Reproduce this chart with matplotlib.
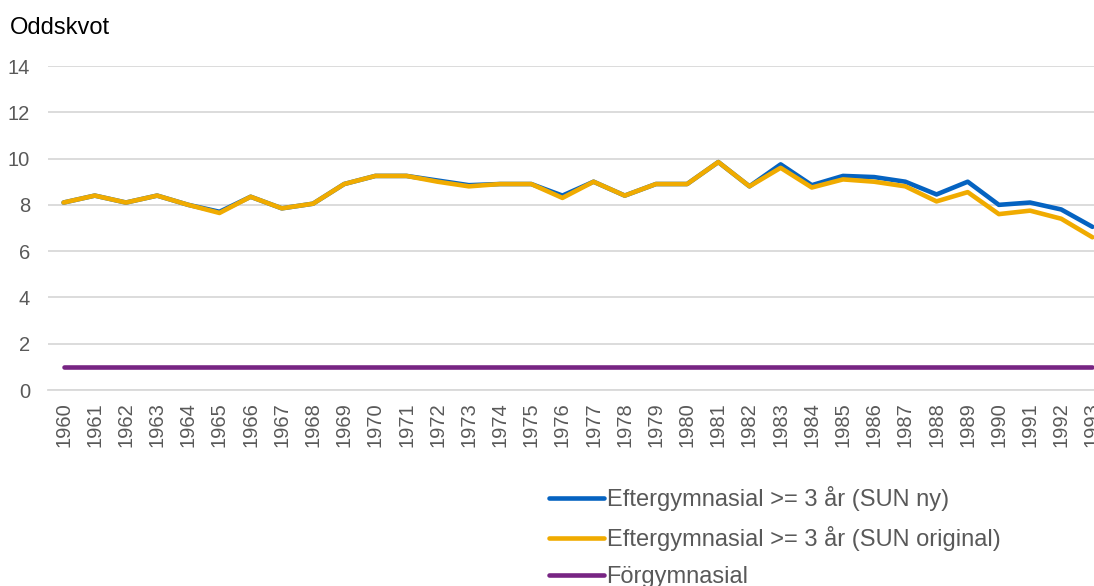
#!/usr/bin/env python3
# Oddskvot per födelseår, tre utbildningsnivåer

import matplotlib.pyplot as plt

plt.rcParams['font.family'] = ['Liberation Sans', 'DejaVu Sans']

years = list(range(1960, 1994))

sun_ny = [8.1, 8.4, 8.1, 8.4, 8.0, 7.7, 8.35, 7.85, 8.05, 8.9,
          9.25, 9.25, 9.05, 8.85, 8.9, 8.9, 8.4, 9.0, 8.4, 8.9,
          8.9, 9.85, 8.8, 9.75, 8.85, 9.25, 9.2, 9.0, 8.45, 9.0,
          8.0, 8.1, 7.8, 7.05]

sun_original = [8.1, 8.4, 8.1, 8.4, 8.0, 7.65, 8.35, 7.85, 8.05, 8.9,
                9.25, 9.25, 9.0, 8.8, 8.9, 8.9, 8.3, 9.0, 8.4, 8.9,
                8.9, 9.85, 8.8, 9.6, 8.75, 9.1, 9.0, 8.8, 8.15, 8.55,
                7.6, 7.75, 7.4, 6.6]

forgymnasial = [1.0] * len(years)

labels = ["Eftergymnasial >= 3 år (SUN ny)",
          "Eftergymnasial >= 3 år (SUN original)",
          "Förgymnasial"]
colors = ["#0563C1", "#F0AB00", "#772583"]

fig = plt.figure(figsize=(10.94, 5.86), dpi=100)
ax = fig.add_axes([48 / 1094, 1 - 390 / 586, 1060 / 1094, 324 / 586])

for vals, lab, col in zip([sun_ny, sun_original, forgymnasial], labels, colors):
    ax.plot(years, vals, color=col, lw=3.3, label=lab,
            solid_capstyle='round', solid_joinstyle='round', clip_on=False)

ax.set_xlim(1959.5, 1993.5)
ax.set_ylim(0, 14)
ax.set_yticks(range(0, 15, 2))
ax.set_xticks(years)
ax.set_xticklabels([str(y) for y in years], rotation=90)
ax.grid(axis='y', color='#D9D9D9', lw=1.3)
ax.set_axisbelow(True)
for side in ['top', 'right', 'left']:
    ax.spines[side].set_visible(False)
ax.spines['bottom'].set_color('#D9D9D9')
ax.spines['bottom'].set_linewidth(1.3)
ax.tick_params(axis='both', length=0, labelsize=14.5, colors='#595959')
ax.tick_params(axis='y', pad=13)
ax.tick_params(axis='x', pad=9)

fig.text(10 / 1094, 1 - 28 / 586, "Oddskvot", fontsize=17, color='black', va='center')

fig.legend(loc='upper left', bbox_to_anchor=(540 / 1094, 1 - 477 / 586),
           frameon=False, fontsize=17, handlelength=2.3, handletextpad=0.12,
           labelspacing=0.63, labelcolor='#595959', borderaxespad=0)

fig.savefig("out.png", dpi=100)
